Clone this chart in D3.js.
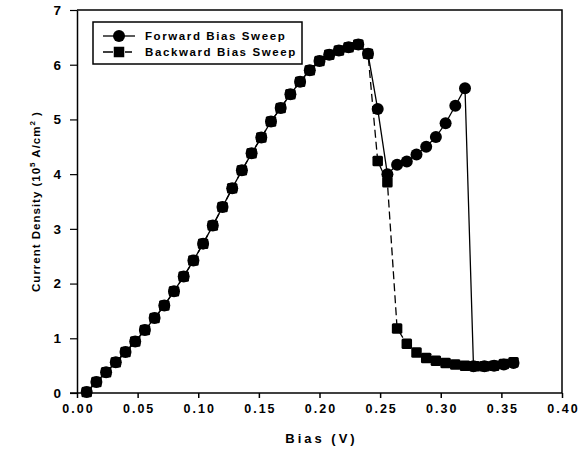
<!DOCTYPE html>
<html>
<head>
<meta charset="utf-8">
<script src="https://cdnjs.cloudflare.com/ajax/libs/d3/7.8.5/d3.min.js"></script>
<style>
  body { margin: 0; background: #fff; }
  text { font-family: "Liberation Sans", Arial, sans-serif; font-weight: bold; fill: #000; }
</style>
</head>
<body>
<div id="chart"></div>
<script>
// forward bias sweep (circles, solid line)
var fwdBias = [0.008, 0.016, 0.024, 0.032, 0.040, 0.048, 0.056, 0.064, 0.072, 0.080,
               0.088, 0.096, 0.104, 0.112, 0.120, 0.128, 0.136, 0.144, 0.152, 0.160,
               0.168, 0.176, 0.184, 0.192, 0.200, 0.208, 0.216, 0.224, 0.232, 0.240,
               0.248, 0.256, 0.264, 0.272, 0.280, 0.288, 0.296, 0.304, 0.312, 0.320,
               0.327, 0.336, 0.344, 0.352, 0.360];
var fwdJ    = [0.02, 0.20, 0.38, 0.56, 0.75, 0.94, 1.15, 1.37, 1.60, 1.86,
               2.13, 2.42, 2.73, 3.06, 3.40, 3.74, 4.07, 4.38, 4.67, 4.96,
               5.21, 5.46, 5.69, 5.90, 6.07, 6.18, 6.26, 6.32, 6.37, 6.20,
               5.19, 4.00, 4.17, 4.23, 4.36, 4.50, 4.68, 4.93, 5.25, 5.57,
               0.49, 0.49, 0.50, 0.52, 0.55];

// backward bias sweep (squares, dashed line)
var bwdBias = [0.360, 0.352, 0.344, 0.336, 0.328, 0.320, 0.312, 0.304, 0.296, 0.288,
               0.280, 0.272, 0.264, 0.256, 0.248, 0.240, 0.232, 0.224, 0.216, 0.208,
               0.200, 0.192, 0.184, 0.176, 0.168, 0.160, 0.152, 0.144, 0.136, 0.128,
               0.120, 0.112, 0.104, 0.096, 0.088, 0.080, 0.072, 0.064, 0.056, 0.048,
               0.040, 0.032, 0.024, 0.016, 0.008];
var bwdJ    = [0.56, 0.53, 0.50, 0.49, 0.49, 0.50, 0.52, 0.55, 0.59, 0.64,
               0.74, 0.90, 1.18, 3.85, 4.24, 6.20, 6.37, 6.32, 6.26, 6.18,
               6.07, 5.90, 5.69, 5.46, 5.21, 4.96, 4.67, 4.38, 4.07, 3.74,
               3.40, 3.06, 2.73, 2.42, 2.13, 1.86, 1.60, 1.37, 1.15, 0.94,
               0.75, 0.56, 0.38, 0.20, 0.02];

var xTicks = [0, 0.05, 0.10, 0.15, 0.20, 0.25, 0.30, 0.35, 0.40];
var yTicks = [0, 1, 2, 3, 4, 5, 6, 7];
var seriesNames = ["Forward Bias Sweep", "Backward Bias Sweep"];

var W = 578, H = 458;
var plot = { left: 77, right: 562, top: 10, bottom: 393 };

var svg = d3.select("#chart").append("svg")
            .attr("width", W)
            .attr("height", H)
            .style("background-color", "#fff");

var x = d3.scaleLinear().domain([0, 0.4]).range([plot.left, plot.right]);
var y = d3.scaleLinear().domain([0, 7]).range([plot.bottom, plot.top]);

// frame (top + right)
svg.append("path")
   .attr("d", "M" + plot.left + "," + plot.top + "H" + plot.right + "V" + plot.bottom)
   .attr("fill", "none").attr("stroke", "#000").attr("stroke-width", 1.5);

var xAxis = d3.axisBottom(x).tickValues(xTicks).tickFormat(d3.format(".2f"))
              .tickSize(5).tickPadding(6).tickSizeOuter(0);
var yAxis = d3.axisLeft(y).tickValues(yTicks).tickFormat(d3.format("d"))
              .tickSize(7).tickPadding(9).tickSizeOuter(0);

var gx = svg.append("g")
   .attr("transform", "translate(0," + plot.bottom + ")")
   .call(xAxis);
gx.select(".domain").attr("d", "M" + (plot.left - 7) + ",0H" + plot.right).attr("stroke-width", 1.5);
gx.selectAll("line").attr("stroke-width", 1.5);
gx.selectAll("text").attr("font-size", 12.5).attr("font-family", "Liberation Sans, Arial, sans-serif")
  .attr("font-weight", "bold").style("letter-spacing", "2px").attr("dx", "1px");

var gy = svg.append("g")
   .attr("transform", "translate(" + plot.left + ",0)")
   .call(yAxis);
gy.select(".domain").attr("stroke-width", 1.5);
gy.selectAll("line").attr("stroke-width", 1.2);
gy.selectAll("text").attr("font-size", 13.5).attr("font-family", "Liberation Sans, Arial, sans-serif")
  .attr("font-weight", "bold");

// axis titles
svg.append("text")
   .attr("x", (plot.left + plot.right) / 2 + 2)
   .attr("y", 443)
   .attr("text-anchor", "middle")
   .attr("font-size", 13)
   .style("letter-spacing", "3px")
   .text("Bias (V)");

var yt = svg.append("text")
   .attr("transform", "translate(40," + ((plot.top + plot.bottom) / 2) + ") rotate(-90)")
   .attr("text-anchor", "middle")
   .attr("font-size", 11.5)
   .style("letter-spacing", "1px");
yt.append("tspan").text("Current Density (10");
yt.append("tspan").attr("font-size", 8).attr("dy", -5).text("5");
yt.append("tspan").attr("dy", 5).text("  A/cm");
yt.append("tspan").attr("font-size", 8).attr("dy", -5).text("2");
yt.append("tspan").attr("dy", 5).text(" )");

// lines
var fwd = fwdBias.map(function(d, i) { return [d, fwdJ[i]]; });
var bwd = bwdBias.map(function(d, i) { return [d, bwdJ[i]]; });

var line = d3.line().x(function(d) { return x(d[0]); })
                    .y(function(d) { return y(d[1]); });

svg.append("path").attr("d", line(bwd)).attr("fill", "none")
   .attr("stroke", "#000").attr("stroke-width", 1.3).attr("stroke-dasharray", "8,4");
svg.append("path").attr("d", line(fwd)).attr("fill", "none")
   .attr("stroke", "#000").attr("stroke-width", 1.3);

// markers
var sq = 10.5;
svg.append("g").selectAll("rect")
   .data(bwd)
   .enter()
   .append("rect")
   .attr("x", function(d) { return x(d[0]) - sq / 2; })
   .attr("y", function(d) { return y(d[1]) - sq / 2; })
   .attr("width", sq).attr("height", sq).attr("rx", 1.5)
   .attr("fill", "#000");

svg.append("g").selectAll("circle")
   .data(fwd)
   .enter()
   .append("circle")
   .attr("cx", function(d) { return x(d[0]); })
   .attr("cy", function(d) { return y(d[1]); })
   .attr("r", 6)
   .attr("fill", "#000");

// legend
var lg = svg.append("g");
lg.append("rect").attr("x", 93).attr("y", 22).attr("width", 209).attr("height", 42)
  .attr("fill", "#fff").attr("stroke", "#000").attr("stroke-width", 1.5);

lg.append("line").attr("x1", 103).attr("x2", 135).attr("y1", 36).attr("y2", 36)
  .attr("stroke", "#000").attr("stroke-width", 1.3);
lg.append("circle").attr("cx", 119).attr("cy", 36).attr("r", 6).attr("fill", "#000");

lg.append("line").attr("x1", 103).attr("x2", 135).attr("y1", 52).attr("y2", 52)
  .attr("stroke", "#000").attr("stroke-width", 1.3).attr("stroke-dasharray", "10,5,5,2,7");
lg.append("rect").attr("x", 119 - sq / 2).attr("y", 52 - sq / 2).attr("width", sq).attr("height", sq)
  .attr("fill", "#000");

lg.selectAll("text.leg")
  .data(seriesNames)
  .enter()
  .append("text")
  .attr("class", "leg")
  .attr("x", 145)
  .attr("y", function(d, i) { return 40 + i * 16; })
  .attr("font-size", 11.5)
  .style("letter-spacing", "1.6px")
  .text(function(d) { return d; });
</script>
</body>
</html>
